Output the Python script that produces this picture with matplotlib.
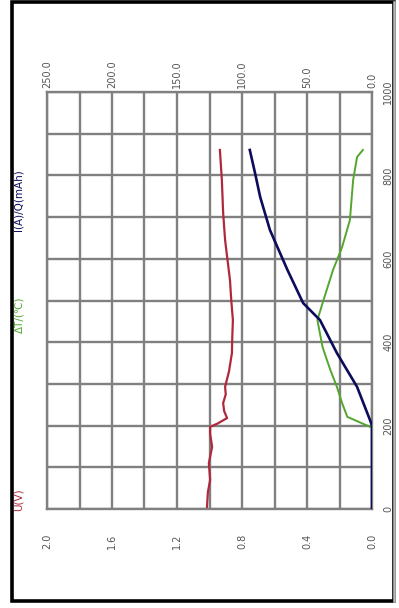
import matplotlib
matplotlib.use("Agg")
import matplotlib.pyplot as plt
from matplotlib.patches import Rectangle
import numpy as np

# ---- data (original, unrotated chart) ----
time_ticks = [0, 200, 400, 600, 800, 1000]
left_ticks = [0.0, 0.4, 0.8, 1.2, 1.6, 2.0]
right_ticks = [0.0, 50.0, 100.0, 150.0, 200.0, 250.0]

red_t = [0, 40, 70, 110, 149, 180, 197, 205, 218, 235, 254, 275, 293, 330, 374, 410, 453, 500, 549, 600, 645, 710, 789, 861]
red_v = [1.016, 1.010, 0.996, 1.004, 0.984, 0.996, 0.996, 0.95, 0.892, 0.910, 0.916, 0.900, 0.904, 0.880, 0.862, 0.860, 0.856, 0.866, 0.874, 0.890, 0.904, 0.916, 0.924, 0.936]

green_t = [195, 221, 254, 293, 333, 388, 453, 494, 573, 628, 693, 789, 844, 861]
green_v = [0.0, 19.0, 23.0, 27.0, 32.0, 38.0, 42.0, 38.0, 30.0, 23.0, 17.0, 14.5, 11.5, 7.0]

blue_t = [0, 200, 213, 293, 374, 453, 494, 573, 669, 748, 806, 861]
blue_v = [0.0, 0.0, 1.5, 11.5, 27.0, 40.0, 53.0, 65.0, 78.5, 86.0, 90.0, 94.0]

labels = ["U(V)", "ΔT/(℃)", "I(A)/Q(mAh)"]
colors = ["#b0283c", "#52a62e", "#0c0c5c"]

W, H = 399, 608
fig = plt.figure(figsize=(W / 100, H / 100), dpi=100)
fig.patch.set_facecolor("white")

# outer frame
fig.add_artist(Rectangle((12 / W, 7 / H), (394 - 12) / W, (606 - 7) / H,
                         transform=fig.transFigure, fill=False,
                         edgecolor="black", linewidth=2.6))
fig.add_artist(plt.Line2D([394 / W, 394 / W], [7 / H, 606 / H], transform=fig.transFigure,
                          color="#bbbbbb", linewidth=1.8))

L, R, T, B = 47, 372, 92, 509
ax = fig.add_axes([L / W, 1 - B / H, (R - L) / W, (B - T) / H])

grid_col = "#808080"
ax.set_xlim(2.0, 0.0)
ax.set_ylim(0, 1000)
ax.set_xticks(left_ticks)
ax.set_xticks(np.arange(0, 2.01, 0.2), minor=True)
ax.set_yticks(time_ticks)
ax.set_yticks(np.arange(0, 1001, 100), minor=True)
ax.grid(True, which="both", color=grid_col, linewidth=1.7)
ax.set_axisbelow(True)
for s in ax.spines.values():
    s.set_color(grid_col)
    s.set_linewidth(1.7)

ax.set_xticklabels([f"{v:.1f}" for v in left_ticks], rotation=90, fontsize=7, color="#555555")
ax.tick_params(axis="x", which="both", length=0, pad=18)
ax.yaxis.tick_right()
ax.set_yticklabels([str(v) for v in time_ticks], rotation=90, fontsize=7, color="#555555", va="center")
ax.tick_params(axis="y", which="both", length=0, pad=8)

ax2 = ax.twiny()
ax2.set_xlim(250.0, 0.0)
ax2.set_xticks(right_ticks)
ax2.set_xticklabels([f"{v:.1f}" for v in right_ticks], rotation=90, fontsize=7, color="#555555")
ax2.tick_params(axis="x", length=0, pad=3)
for s in ax2.spines.values():
    s.set_visible(False)

ax.plot(red_v, red_t, color=colors[0], linewidth=1.6)
ax2.plot(green_v, green_t, color=colors[1], linewidth=1.4)
ax2.plot(blue_v, blue_t, color=colors[2], linewidth=1.9)

# rotated legend texts on the left side
for lab, c, yc in zip(labels, colors, [500, 315, 200]):
    fig.text(19 / W, 1 - yc / H, lab, rotation=90, color=c, fontsize=7.5,
             ha="center", va="center")

fig.savefig("out.png", dpi=100, facecolor="white")
